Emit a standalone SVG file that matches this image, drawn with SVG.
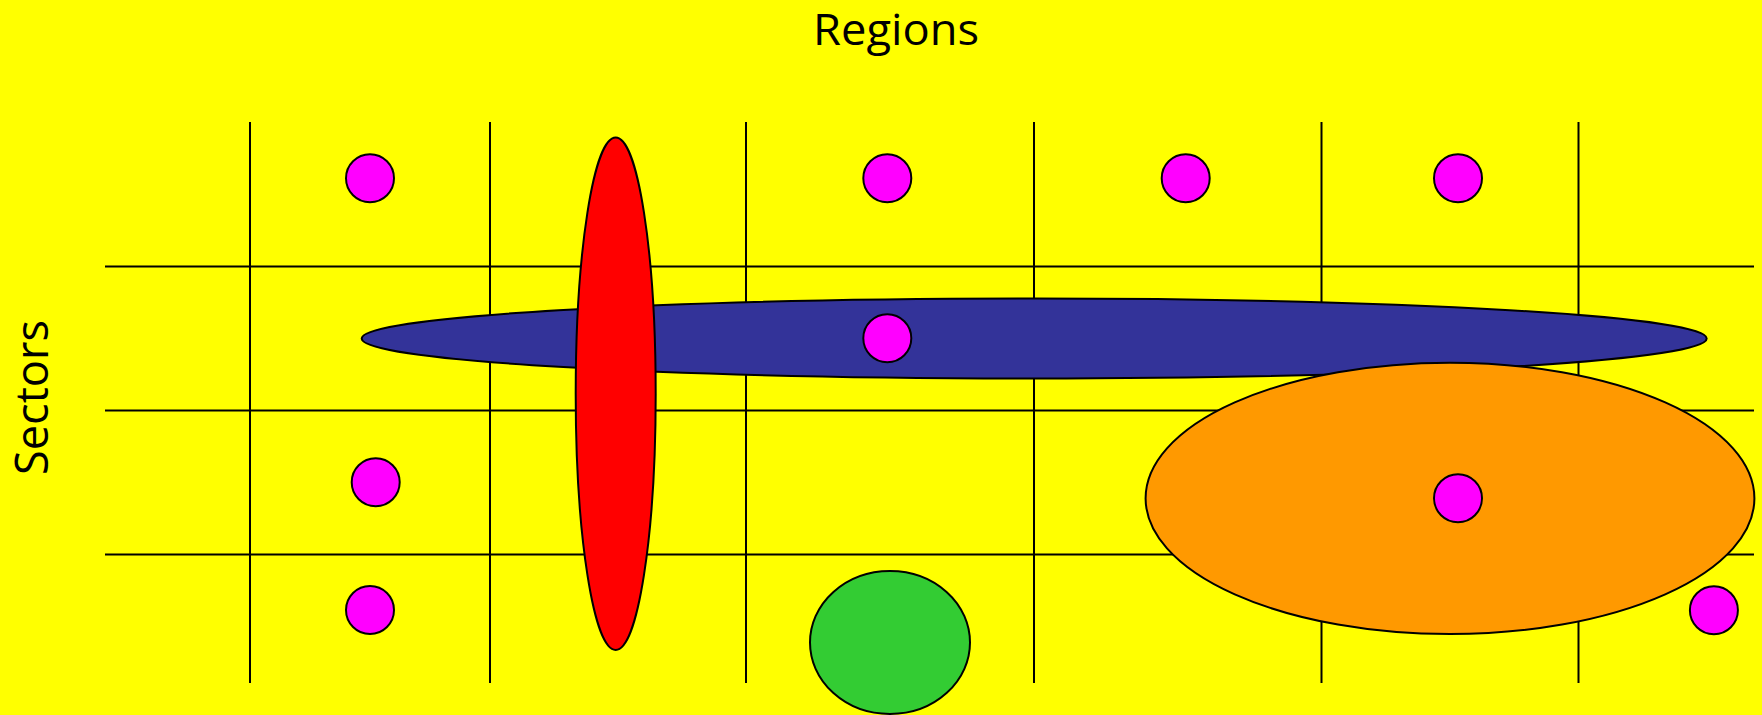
<svg xmlns="http://www.w3.org/2000/svg" width="1762" height="715" viewBox="0 0 1762 715">
  <style>
    .grid { stroke: #000; stroke-width: 2; fill: none; }
    .shape { stroke: #000; stroke-width: 2; }
    .dot { fill: #FF00FF; stroke: #000; stroke-width: 2; }
    .label { font-family: "Open Sans", "Liberation Sans", sans-serif; fill: #000; }
  </style>
  <rect x="0" y="0" width="1762" height="715" fill="#FFFF00"/>
  <g id="connectors">
    <line class="grid" x1="250" y1="122" x2="250" y2="683"/>
    <line class="grid" x1="490" y1="122" x2="490" y2="683"/>
    <line class="grid" x1="746" y1="122" x2="746" y2="683"/>
    <line class="grid" x1="1034" y1="122" x2="1034" y2="683"/>
    <line class="grid" x1="1321.5" y1="122" x2="1321.5" y2="683"/>
    <line class="grid" x1="1578.5" y1="122" x2="1578.5" y2="683"/>
    <line class="grid" x1="105" y1="266.5" x2="1754" y2="266.5"/>
    <line class="grid" x1="105" y1="410.5" x2="1754" y2="410.5"/>
    <line class="grid" x1="105" y1="554.5" x2="1754" y2="554.5"/>
  </g>
  <g id="title-regions">
    <text class="label" x="896" y="45" font-size="43" text-anchor="middle" textLength="166" lengthAdjust="spacingAndGlyphs">Regions</text>
  </g>
  <g id="title-sectors">
    <text class="label" transform="translate(48,397.5) rotate(-90)" font-size="45" text-anchor="middle" textLength="155" lengthAdjust="spacingAndGlyphs">Sectors</text>
  </g>
  <g id="dot-r1c1"><circle class="dot" cx="370" cy="178.3" r="24"/></g>
  <g id="dot-r1c3"><circle class="dot" cx="887.3" cy="178.3" r="24"/></g>
  <g id="dot-r1c4"><circle class="dot" cx="1185.7" cy="178.3" r="24"/></g>
  <g id="dot-r1c5"><circle class="dot" cx="1458" cy="178.3" r="24"/></g>
  <g id="blue-ellipse"><ellipse class="shape" fill="#333399" cx="1034.2" cy="338.5" rx="672.5" ry="40"/></g>
  <g id="red-ellipse"><ellipse class="shape" fill="#FF0000" cx="615.7" cy="393.8" rx="40" ry="256.2"/></g>
  <g id="orange-ellipse"><ellipse class="shape" fill="#FF9900" cx="1450" cy="498.4" rx="304.4" ry="135.7"/></g>
  <g id="green-ellipse"><ellipse class="shape" fill="#33CC33" cx="890" cy="642.5" rx="80" ry="71.5"/></g>
  <g id="dot-r2c3"><circle class="dot" cx="887.3" cy="338.3" r="24"/></g>
  <g id="dot-r3c1"><circle class="dot" cx="375.7" cy="482.3" r="24"/></g>
  <g id="dot-r3c5"><circle class="dot" cx="1458" cy="498.3" r="24"/></g>
  <g id="dot-r4c1"><circle class="dot" cx="370" cy="610" r="24"/></g>
  <g id="dot-r4c6"><circle class="dot" cx="1713.9" cy="610.3" r="24"/></g>
</svg>
